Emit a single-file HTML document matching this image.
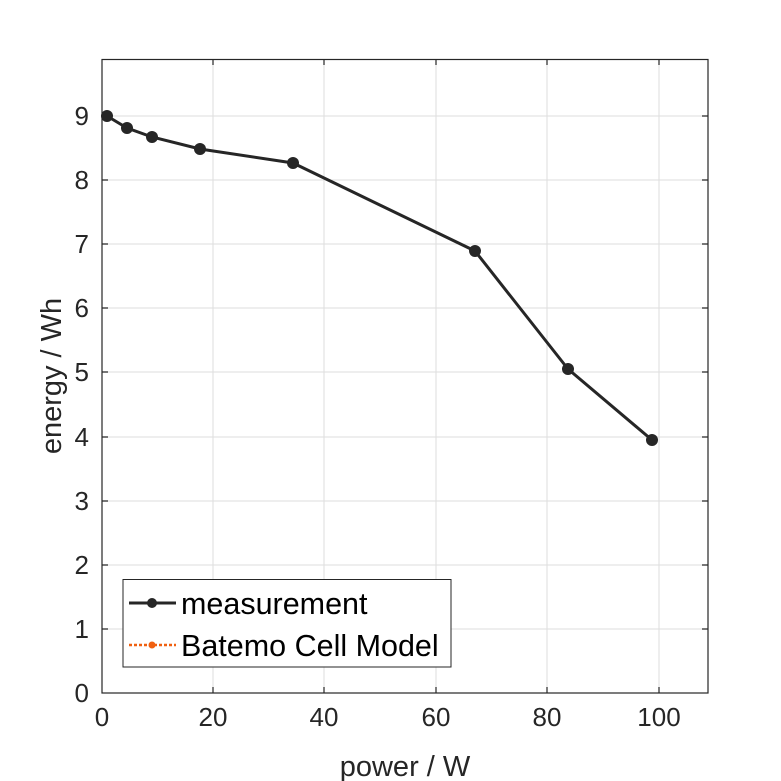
<!DOCTYPE html>
<html><head><style>body{margin:0;background:#fff}svg{display:block}</style></head><body>
<svg width="781" height="781" xmlns="http://www.w3.org/2000/svg" font-family="Liberation Sans, sans-serif">
<rect width="781" height="781" fill="#fff"/>
<g stroke="#dedede" stroke-width="1">
<line x1="213" y1="59" x2="213" y2="693"/><line x1="324" y1="59" x2="324" y2="693"/><line x1="436" y1="59" x2="436" y2="693"/><line x1="547" y1="59" x2="547" y2="693"/><line x1="659" y1="59" x2="659" y2="693"/>
<line x1="102" y1="629" x2="708" y2="629"/><line x1="102" y1="565" x2="708" y2="565"/><line x1="102" y1="501" x2="708" y2="501"/><line x1="102" y1="437" x2="708" y2="437"/><line x1="102" y1="372" x2="708" y2="372"/><line x1="102" y1="308" x2="708" y2="308"/><line x1="102" y1="244" x2="708" y2="244"/><line x1="102" y1="180" x2="708" y2="180"/><line x1="102" y1="116" x2="708" y2="116"/>
</g>
<rect x="102" y="59.5" width="606" height="633.5" fill="none" stroke="#262626" stroke-width="1.2"/>
<g stroke="#262626" stroke-width="1.2">
<path d="M213 693v-6M324 693v-6M436 693v-6M547 693v-6M659 693v-6M213 59v6M324 59v6M436 59v6M547 59v6M659 59v6"/>
<path d="M102 629h6M102 565h6M102 501h6M102 437h6M102 372h6M102 308h6M102 244h6M102 180h6M102 116h6M708 629h-6M708 565h-6M708 501h-6M708 437h-6M708 372h-6M708 308h-6M708 244h-6M708 180h-6M708 116h-6"/>
</g>
<g font-size="26" fill="#262626" text-anchor="middle">
<text x="102" y="726">0</text><text x="213" y="726">20</text><text x="324" y="726">40</text><text x="436" y="726">60</text><text x="547" y="726">80</text><text x="659" y="726">100</text>
</g>
<g font-size="26" fill="#262626" text-anchor="end">
<text x="89" y="702">0</text><text x="89" y="638">1</text><text x="89" y="574">2</text><text x="89" y="510">3</text><text x="89" y="446">4</text><text x="89" y="381">5</text><text x="89" y="317">6</text><text x="89" y="253">7</text><text x="89" y="189">8</text><text x="89" y="125">9</text>
</g>
<text x="405" y="776" font-size="29" fill="#262626" text-anchor="middle">power / W</text>
<text transform="translate(61,376) rotate(-90)" font-size="29" fill="#262626" text-anchor="middle">energy / Wh</text>
<polyline points="107,116 127,128 152,137 200,149 293,163 475,251 568,369 652,440" fill="none" stroke="#262626" stroke-width="3"/>
<g fill="#262626">
<circle cx="107" cy="116" r="6"/><circle cx="127" cy="128" r="6"/><circle cx="152" cy="137" r="6"/><circle cx="200" cy="149" r="6"/><circle cx="293" cy="163" r="6"/><circle cx="475" cy="251" r="6"/><circle cx="568" cy="369" r="6"/><circle cx="652" cy="440" r="6"/>
</g>
<rect x="123" y="579.5" width="328" height="87.5" fill="#fff" stroke="#262626" stroke-width="1"/>
<line x1="129" y1="603" x2="176" y2="603" stroke="#262626" stroke-width="3"/>
<circle cx="152" cy="603" r="5" fill="#262626"/>
<line x1="129" y1="645" x2="176" y2="645" stroke="#f06010" stroke-width="2.5" stroke-dasharray="3,2"/>
<circle cx="152" cy="645" r="3.5" fill="#f06010"/>
<text x="181" y="614" font-size="30.5" fill="#000">measurement</text>
<text x="181" y="656" font-size="30.5" fill="#000">Batemo Cell Model</text>
</svg>
</body></html>
